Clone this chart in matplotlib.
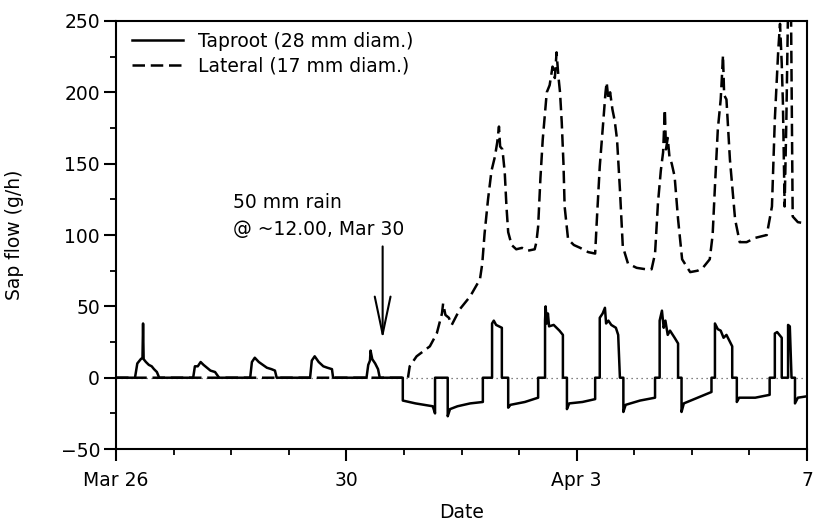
import matplotlib
matplotlib.use("Agg")
import matplotlib.pyplot as plt
from matplotlib.patches import ArrowStyle

# days since Mar 26, 00:00
taproot_day = [0, 0.33, 0.37, 0.43, 0.46, 0.47, 0.48, 0.52, 0.57, 0.62, 0.66, 0.71, 0.75,
               1.34, 1.37, 1.42, 1.47, 1.52, 1.58, 1.64, 1.72, 1.79,
               2.33, 2.36, 2.41, 2.48, 2.55, 2.62, 2.70, 2.76, 2.79,
               3.37, 3.40, 3.45, 3.52, 3.60, 3.67, 3.75, 3.77,
               4.35, 4.38, 4.41, 4.42, 4.45, 4.50, 4.55, 4.58,
               4.98, 4.98, 5.20, 5.50, 5.54, 5.54, 5.76, 5.76, 5.80, 5.93, 6.15, 6.37,
               6.37, 6.53, 6.53, 6.56, 6.60, 6.70, 6.70, 6.81, 6.81, 6.85, 7.10, 7.33,
               7.33, 7.45, 7.45, 7.46, 7.48, 7.50, 7.52, 7.60, 7.70, 7.76, 7.76, 7.83,
               7.83, 7.87, 8.10, 8.32,
               8.32, 8.40, 8.40, 8.45, 8.49, 8.51, 8.55, 8.60, 8.68, 8.72, 8.75, 8.81,
               8.81, 8.85, 9.10, 9.36,
               9.36, 9.44, 9.44, 9.48, 9.51, 9.54, 9.58, 9.62, 9.70, 9.76, 9.76, 9.82,
               9.82, 9.86, 10.10, 10.34,
               10.34, 10.40, 10.40, 10.45, 10.50, 10.55, 10.60, 10.70, 10.70, 10.78,
               10.78, 10.82, 11.10, 11.35,
               11.35, 11.44, 11.44, 11.48, 11.56, 11.56, 11.67, 11.67, 11.70, 11.73,
               11.79, 11.79, 11.84, 12.0]
taproot_flow = [0, 0, 10, 13, 14, 38, 13, 11, 9, 8, 6, 4, 0,
                0, 8, 8, 11, 9, 7, 5, 4, 0,
                0, 11, 14, 11, 9, 7, 6, 5, 0,
                0, 12, 15, 11, 8, 7, 6, 0,
                0, 9, 12, 19, 13, 10, 6, 0,
                0, -16, -18, -20, -25, 0, 0, -27, -22, -20, -18, -17,
                0, 0, 38, 40, 37, 35, 0, 0, -21, -19, -17, -14,
                0, 0, 40, 50, 38, 45, 36, 37, 33, 30, 0, 0,
                -22, -18, -17, -15,
                0, 0, 42, 45, 49, 38, 40, 37, 35, 30, 0, 0,
                -24, -19, -16, -14,
                0, 0, 40, 47, 35, 40, 30, 33, 28, 24, 0, 0,
                -24, -18, -14, -10,
                0, 0, 38, 34, 33, 28, 30, 22, 0, 0,
                -17, -14, -14, -12,
                0, 0, 31, 32, 28, 0, 0, 37, 36, 0,
                0, -18, -14, -13]

lateral_day = [0, 5.07, 5.10, 5.22, 5.45, 5.57, 5.66, 5.68, 5.72, 5.78, 5.83, 5.97, 6.15,
               6.32, 6.36, 6.40, 6.46, 6.52, 6.58, 6.62, 6.65, 6.67, 6.71, 6.75, 6.78,
               6.81, 6.87, 6.95, 7.05, 7.15, 7.27,
               7.30, 7.33, 7.37, 7.41, 7.48, 7.53, 7.58, 7.62, 7.65, 7.68, 7.71, 7.74,
               7.77, 7.79, 7.85, 7.95, 8.06, 8.20, 8.32,
               8.35, 8.40, 8.46, 8.50, 8.52, 8.55, 8.58, 8.62, 8.66, 8.70, 8.75, 8.80,
               8.89, 9.04, 9.20, 9.30,
               9.36, 9.41, 9.46, 9.50, 9.53, 9.55, 9.58, 9.61, 9.65, 9.70, 9.76, 9.83,
               9.97, 10.10, 10.19, 10.31,
               10.36, 10.40, 10.45, 10.50, 10.52, 10.54, 10.56, 10.60, 10.66, 10.75,
               10.83, 10.95, 11.10, 11.30,
               11.39, 11.44, 11.50, 11.53, 11.56, 11.58, 11.61, 11.64, 11.67, 11.72,
               11.75, 11.84, 12.0]
lateral_flow = [0, 0, 8, 15, 22, 31, 45, 52, 44, 42, 37, 48, 57,
                69, 80, 101, 125, 145, 155, 165, 176, 162, 160, 144, 120,
                102, 93, 90, 91, 89, 90,
                95, 106, 140, 167, 200, 205, 218, 210, 228, 212, 200, 179,
                150, 120, 97, 93, 91, 88, 87,
                111, 148, 179, 200, 207, 195, 200, 188, 180, 167, 132, 92,
                80, 77, 76, 76,
                87, 122, 145, 158, 188, 160, 168, 155, 150, 141, 111, 83,
                74, 75, 77, 83,
                100, 134, 174, 195, 210, 226, 198, 195, 153, 111,
                95, 95, 98, 100,
                120, 181, 230, 248, 220, 193, 120, 180, 260, 262,
                113, 109, 108]

xtick_pos = [0, 4, 8, 12]
xtick_labels = ["Mar 26", "30", "Apr 3", "7"]

plt.rcParams['font.family'] = 'DejaVu Sans'
plt.rcParams['font.size'] = 13.5

fig = plt.figure(figsize=(8.14, 5.24), dpi=100)
ax = fig.add_axes([0.1425, 0.143, 0.849, 0.817])

ax.axhline(0, ls=(0, (1, 3)), color='0.35', lw=0.9, zorder=1)
ax.plot(lateral_day, lateral_flow, color='black', lw=1.8, ls=(0, (5, 2.3)),
        label='Lateral (17 mm diam.)', zorder=2)
ax.plot(taproot_day, taproot_flow, color='black', lw=1.8,
        label='Taproot (28 mm diam.)', zorder=3)

ax.set_xlim(0, 12)
ax.set_ylim(-50, 250)
ax.set_xticks(xtick_pos)
ax.set_xticklabels(xtick_labels)
ax.set_xticks(range(0, 13), minor=True)
ax.set_yticks(range(-50, 251, 50))
ax.set_yticks(range(-50, 251, 25), minor=True)
ax.tick_params(which='major', length=8.5, width=1.5, direction='out')
ax.tick_params(which='minor', length=4.5, width=1.3, direction='out')
ax.tick_params(axis='x', which='major', pad=7)
ax.tick_params(axis='y', which='major', pad=3)
for s in ax.spines.values():
    s.set_linewidth(1.5)

ax.set_xlabel('Date')
ax.set_ylabel('Sap flow (g/h)')
ax.xaxis.set_label_coords(0.5, -0.125)
ax.yaxis.set_label_coords(-0.133, 0.5)

h, l = ax.get_legend_handles_labels()
ax.legend(h[::-1], l[::-1], loc='upper left', bbox_to_anchor=(0.023, 0.975),
          frameon=False, borderpad=0, borderaxespad=0, handlelength=2.7,
          handletextpad=0.8, labelspacing=0.3)

ax.text(2.03, 122.6, '50 mm rain', ha='left', va='center')
ax.text(2.03, 103.7, '@ ~12.00, Mar 30', ha='left', va='center')
ax.annotate('', xy=(4.63, 27), xytext=(4.63, 92),
            arrowprops=dict(arrowstyle=ArrowStyle('->', head_length=2.0, head_width=0.42),
                            lw=1.5, color='black', shrinkA=0, shrinkB=0))

fig.savefig('out.png', dpi=100)
